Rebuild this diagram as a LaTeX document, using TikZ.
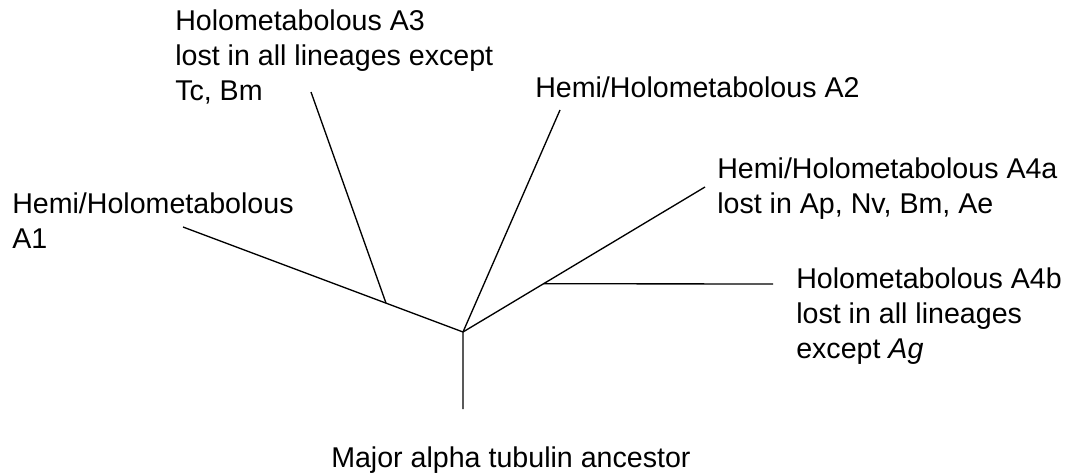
\documentclass[tikz,border=0pt]{standalone}
\usepackage{fontspec}
\setmainfont{Liberation Sans}
\usetikzlibrary{calc}
\begin{document}
\begin{tikzpicture}[x=0.75pt,y=-0.75pt,
    branch/.style={line width=1pt},
    lbl/.style={anchor=north west,inner sep=0pt,align=left,font=\fontsize{21.45}{26.25}\selectfont}]
  \useasboundingbox (0,0) rectangle (1066,474);
  % tree points
  \coordinate (root) at (463,409);
  \coordinate (fork) at (463,332);
  \coordinate (a1end) at (183,227);
  \coordinate (a3fork) at ($(fork)!0.275!(a1end)$);
  \coordinate (a3end) at (311,92);
  \coordinate (a2end) at (560,110);
  \coordinate (a4aend) at (705,187);
  \coordinate (a4bfork) at ($(fork)!0.333!(a4aend)$);
  \coordinate (a4bend) at (773,284);
  % labels
  \node[lbl] (a3) at (175,10) {Holometabolous A3\\lost in all lineages except\\Tc, Bm};
  \node[lbl] (a1) at (12,193) {Hemi/Holometabolous\\A1};
  \node[lbl] (a2) at (535,77) {Hemi/Holometabolous A2};
  \node[lbl] (a4a) at (717,158) {Hemi/Holometabolous A4a\\lost in Ap, Nv, Bm, Ae};
  \node[lbl] (a4b) at (796,268) {Holometabolous A4b\\lost in all lineages\\except \textit{Ag}};
  \node[lbl] (anc) at (331,447) {Major alpha tubulin ancestor};
  % branches
  \draw[branch] (root) -- (fork) -- (a1end);
  \draw[branch] (a3fork) -- (a3end);
  \draw[branch] (fork) -- (a2end);
  \draw[branch] (fork) -- (a4aend);
  \draw[branch] (a4bfork) -- (a4bend);
\end{tikzpicture}
\end{document}
